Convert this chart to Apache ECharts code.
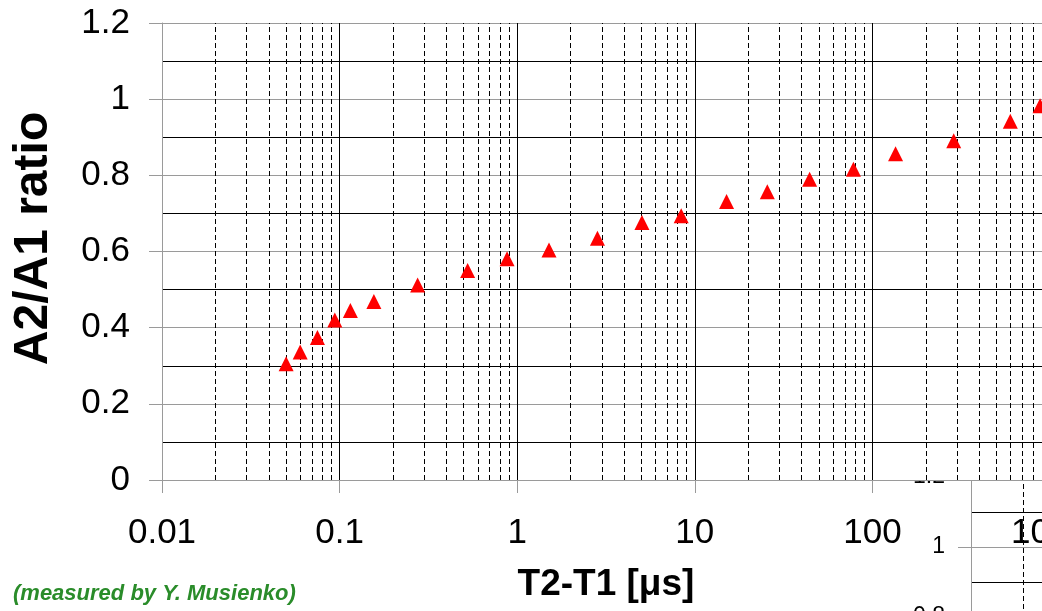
<!DOCTYPE html>
<html>
<head>
<meta charset="utf-8">
<script src="https://cdn.jsdelivr.net/npm/echarts@6/dist/echarts.min.js"></script>
<style>
html,body{margin:0;padding:0;background:#fff;}
#chart{width:1042px;height:611px;}
</style>
</head>
<body>
<div id="chart"></div>
<script>
// Measured data (T2-T1 in microseconds, A2/A1 ratio)
const t2t1 = [0.050, 0.060, 0.075, 0.094, 0.115, 0.156, 0.275, 0.526, 0.877, 1.51, 2.83, 5.04, 8.38, 15.1, 25.6, 44.3, 78.2, 135, 287, 598, 879];
const ratio = [0.305, 0.336, 0.374, 0.420, 0.445, 0.469, 0.512, 0.550, 0.581, 0.604, 0.635, 0.676, 0.694, 0.731, 0.757, 0.790, 0.816, 0.857, 0.891, 0.942, 0.983];

// Minor (dashed) vertical grid positions of the log axis
const minorGridX = [0.02, 0.03, 0.04, 0.05, 0.06, 0.07, 0.08, 0.09,
  0.2, 0.3, 0.4, 0.5, 0.6, 0.7, 0.8, 0.9,
  2, 3, 4, 5, 6, 7, 8, 9,
  20, 30, 40, 50, 60, 70, 80, 90,
  200, 300, 400, 500, 600, 700, 800, 900];
// Inset chart fragment (bottom right) minor grid
const insetMinorGridX = [2];

const xMin = 0.01, xMax = 1000;
const yMin = 0, yMax = 1.2;

const xTitle = 'T2-T1 [\u03bcs]';
const yTitle = 'A2/A1 ratio';
const note = '(measured by Y. Musienko)';

const GRAY = '#9a9a9a';
const FONT = '"Liberation Sans", Arial, sans-serif';

const chart = echarts.init(document.getElementById('chart'), null, {renderer: 'canvas'});

const dashedLine = {color: '#000', width: 1, type: [5, 3]};
const numFmt = v => String(+Number(v).toPrecision(6));

chart.setOption({
  animation: false,
  backgroundColor: '#fff',
  textStyle: {fontFamily: FONT},
  title: {
    text: note,
    left: 8, top: 578,
    textStyle: {fontFamily: FONT, fontSize: 22, fontStyle: 'italic', fontWeight: 'bold', color: '#2a8c2a'}
  },
  grid: [
    {left: 162, top: 23, width: 888, height: 457, show: true, backgroundColor: '#fff', borderWidth: 0, z: 1,
      containLabel: false, outerBoundsMode: 'none'},
    {left: 971, top: 477, width: 172, height: 420, show: false, z: 0,
      containLabel: false, outerBoundsMode: 'none'}
  ],
  xAxis: [
    {
      type: 'log', logBase: 10, min: xMin, max: xMax, gridIndex: 0, z: 1,
      name: xTitle, nameLocation: 'middle', nameGap: 86,
      nameTextStyle: {fontFamily: FONT, fontSize: 37, fontWeight: 'bold', color: '#000'},
      axisLine: {show: true, lineStyle: {color: GRAY, width: 1}},
      axisTick: {show: true, length: 13, lineStyle: {color: GRAY, width: 1}},
      axisLabel: {fontFamily: FONT, fontSize: 35, color: '#000', margin: 36, showMaxLabel: true, hideOverlap: false,
        formatter: numFmt},
      splitLine: {show: true, lineStyle: {color: [GRAY, '#000', '#000', '#000', '#000', '#000'], width: 1}},
      minorTick: {show: false}, minorSplitLine: {show: false}
    },
    {
      type: 'log', logBase: 10, min: 1, max: 10, gridIndex: 1, z: 0,
      axisLine: {show: false}, axisTick: {show: false}, axisLabel: {show: false},
      splitLine: {show: false}
    }
  ],
  yAxis: [
    {
      type: 'value', min: yMin, max: yMax, interval: 0.2, gridIndex: 0, z: 1,
      name: yTitle, nameLocation: 'middle', nameGap: 104, nameRotate: 90,
      nameTextStyle: {fontFamily: FONT, fontSize: 48, fontWeight: 'bold', color: '#000', padding: [0, 0, 0, 26]},
      axisLine: {show: true, lineStyle: {color: GRAY, width: 1}},
      axisTick: {show: true, length: 13, lineStyle: {color: GRAY, width: 1}},
      axisLabel: {fontFamily: FONT, fontSize: 35, color: '#000', margin: 32, formatter: numFmt},
      splitLine: {show: true, lineStyle: {color: GRAY, width: 1}}
    },
    {
      type: 'value', min: yMin, max: yMax, interval: 0.1, gridIndex: 0, z: 1,
      axisLine: {show: false}, axisTick: {show: false}, axisLabel: {show: false},
      splitLine: {show: true, lineStyle: {color: ['rgba(0,0,0,0)', '#000'], width: 1}}
    },
    {
      type: 'value', min: 0, max: 1.2, interval: 0.2, gridIndex: 1, z: 0,
      axisLine: {show: true, lineStyle: {color: GRAY, width: 1}},
      axisTick: {show: true, length: 13, lineStyle: {color: GRAY, width: 1}},
      axisLabel: {fontFamily: FONT, fontSize: 23, color: '#000', margin: 26, formatter: numFmt},
      splitLine: {show: true, lineStyle: {color: GRAY, width: 1}}
    },
    {
      type: 'value', min: 0, max: 1.2, interval: 0.1, gridIndex: 1, z: 0,
      axisLine: {show: false}, axisTick: {show: false}, axisLabel: {show: false},
      splitLine: {show: true, lineStyle: {color: ['rgba(0,0,0,0)', '#000'], width: 1}}
    }
  ],
  series: [
    {
      type: 'scatter', xAxisIndex: 1, yAxisIndex: 2, z: 0, data: [],
      markLine: {
        silent: true, symbol: ['none', 'none'], label: {show: false},
        lineStyle: dashedLine, z: 0,
        data: insetMinorGridX.map(v => ({xAxis: v}))
      }
    },
    {
      type: 'scatter', xAxisIndex: 0, yAxisIndex: 0, z: 2, data: [],
      markLine: {
        silent: true, symbol: ['none', 'none'], label: {show: false},
        lineStyle: dashedLine, z: 2,
        data: minorGridX.map(v => ({xAxis: v}))
      }
    },
    {
      type: 'scatter', xAxisIndex: 0, yAxisIndex: 0, z: 3,
      symbol: 'triangle', symbolSize: 15,
      itemStyle: {color: '#ff0000', opacity: 1},
      data: t2t1.map((x, i) => [x, ratio[i]])
    }
  ]
});
</script>
</body>
</html>
